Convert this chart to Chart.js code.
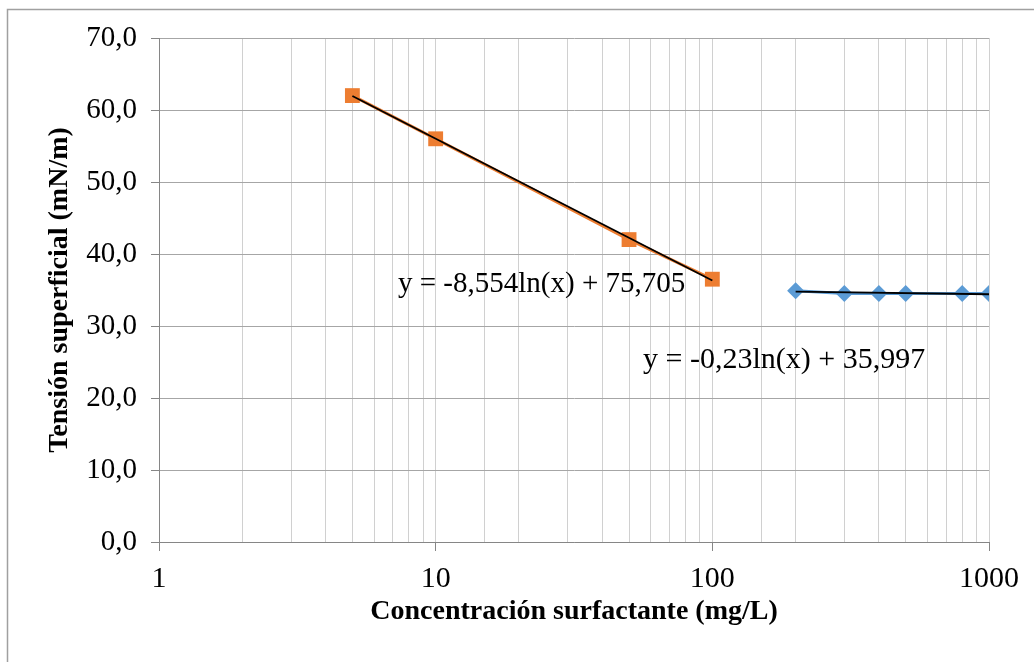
<!DOCTYPE html>
<html>
<head>
<meta charset="utf-8">
<script src="https://cdn.jsdelivr.net/npm/chart.js@4/dist/chart.umd.min.js"></script>
<style>
  html, body { margin: 0; padding: 0; background: #ffffff; }
  canvas { display: block; }
</style>
</head>
<body>
<canvas id="chart" width="1034" height="662"></canvas>
<script>
// Surface tension vs. surfactant concentration (log scale), two regimes
const concLow = [5, 10, 50, 100];                  // mg/L
const tensionLow = [62.0, 56.0, 42.0, 36.5];       // mN/m
const concHigh = [200, 300, 400, 500, 800, 1000];  // mg/L
const tensionHigh = [34.9, 34.5, 34.5, 34.5, 34.5, 34.5];

// Logarithmic fits y = a·ln(x) + b
const fitSlope = [-8.554, -0.23];
const fitIntercept = [75.705, 35.997];
const fitRangeLow = [5, 100];
const fitRangeHigh = [200, 1000];

const xTickValues = [1, 10, 100, 1000];
const yTickValues = [0, 10, 20, 30, 40, 50, 60, 70];

const fmt = (v, d) => (d === undefined ? String(v) : v.toFixed(d)).replace('.', ',');
const fitPoints = (i, range) => range.map(x => ({ x: x, y: fitSlope[i] * Math.log(x) + fitIntercept[i] }));
const fitLabel = i => 'y = ' + fmt(fitSlope[i]) + 'ln(x) + ' + fmt(fitIntercept[i]);
const isDecade = v => xTickValues.includes(v);

const ORANGE = '#ED7D31';
const BLUE = '#5B9BD5';

const frameAndLabels = {
  id: 'frameAndLabels',
  beforeDraw(chart) {
    const ctx = chart.ctx;
    ctx.save();
    ctx.fillStyle = '#ffffff';
    ctx.fillRect(0, 0, chart.width, chart.height);
    ctx.strokeStyle = '#a0a0a0';
    ctx.lineWidth = 1.5;
    ctx.strokeRect(7.5, 9.5, chart.width + 20, chart.height + 20);
    ctx.restore();
  },
  afterDatasetsDraw(chart) {
    const ctx = chart.ctx;
    ctx.save();
    ctx.fillStyle = '#000000';
    ctx.font = '29px "Liberation Serif"';
    ctx.textBaseline = 'alphabetic';
    ctx.textAlign = 'left';
    ctx.fillText(fitLabel(0), 398, 292);
    ctx.font = '30px "Liberation Serif"';
    ctx.fillText(fitLabel(1), 643, 368);
    ctx.restore();
  }
};

Chart.defaults.font.family = '"Liberation Serif", "Times New Roman", serif';
Chart.defaults.color = '#000000';

new Chart(document.getElementById('chart'), {
  type: 'line',
  data: {
    datasets: [
      {
        label: 'fit-low',
        data: fitPoints(0, fitRangeLow),
        borderColor: '#000000',
        borderWidth: 1.8,
        pointRadius: 0,
        fill: false
      },
      {
        label: 'fit-high',
        data: fitPoints(1, fitRangeHigh),
        borderColor: '#000000',
        borderWidth: 1.8,
        pointRadius: 0,
        fill: false
      },
      {
        label: 'low',
        data: concLow.map((x, i) => ({ x: x, y: tensionLow[i] })),
        borderColor: ORANGE,
        backgroundColor: ORANGE,
        borderWidth: 3,
        pointStyle: 'rect',
        pointRadius: 10.5,
        pointBorderWidth: 0,
        pointBackgroundColor: ORANGE,
        fill: false
      },
      {
        label: 'high',
        data: concHigh.map((x, i) => ({ x: x, y: tensionHigh[i] })),
        borderColor: BLUE,
        backgroundColor: BLUE,
        borderWidth: 3,
        pointStyle: 'rectRot',
        pointRadius: 8.5,
        pointBorderWidth: 0,
        pointBackgroundColor: BLUE,
        fill: false
      }
    ]
  },
  options: {
    responsive: false,
    devicePixelRatio: 1,
    animation: false,
    layout: { padding: { left: 0, top: 38, right: 45, bottom: 0 } },
    plugins: { legend: { display: false }, tooltip: { enabled: false } },
    scales: {
      x: {
        type: 'logarithmic',
        min: 1,
        max: 1000,
        afterFit(scale) { scale.height = 120; },
        border: { color: '#868686', width: 1 },
        grid: {
          color: '#d0d0d0',
          lineWidth: 1,
          tickLength: 9,
          tickColor: ctx => (ctx.tick && isDecade(ctx.tick.value)) ? '#868686' : 'rgba(0,0,0,0)'
        },
        ticks: {
          autoSkip: false,
          maxRotation: 0,
          padding: 10,
          font: { size: 30 },
          callback: v => isDecade(v) ? String(v) : ''
        },
        title: {
          display: true,
          text: 'Concentración surfactante (mg/L)',
          font: { size: 28, weight: 'bold' },
          padding: { top: 0, bottom: 33 }
        }
      },
      y: {
        type: 'linear',
        min: 0,
        max: 70,
        afterFit(scale) { scale.width = 159; },
        afterBuildTicks(scale) { scale.ticks = yTickValues.map(v => ({ value: v })); },
        border: { color: '#868686', width: 1 },
        grid: {
          color: '#a6a6a6',
          lineWidth: 1,
          tickLength: 8,
          tickColor: '#868686'
        },
        ticks: {
          padding: 14,
          font: { size: 29 },
          callback: v => fmt(v, 1)
        },
        title: {
          display: true,
          text: 'Tensión superficial (mN/m)',
          font: { size: 28, weight: 'bold' },
          padding: { top: 43, bottom: 0 }
        }
      }
    }
  },
  plugins: [frameAndLabels]
});
</script>
</body>
</html>
